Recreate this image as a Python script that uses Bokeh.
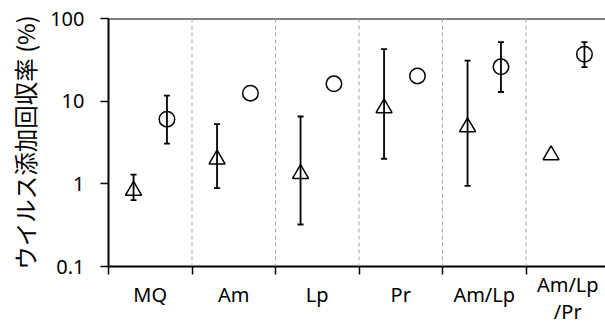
from bokeh.plotting import figure
from bokeh.models import (ColumnDataSource, Range1d, FixedTicker, Whisker, TeeHead,
                          Span, BasicTickFormatter, LinearAxis)
from bokeh.embed import file_html
from bokeh.resources import INLINE

categories = ["MQ", "Am", "Lp", "Pr", "Am/Lp", "Am/Lp/Pr"]
cat_labels = ["MQ", "Am", "Lp", "Pr", "Am/Lp", "Am/Lp\n/Pr"]

tri_val = [0.83, 1.98, 1.32, 8.26, 4.86, 2.23]
tri_hi = [1.29, 5.27, 6.52, 42.6, 31.0, None]
tri_lo = [0.635, 0.887, 0.322, 2.01, 0.946, None]

circ_val = [6.06, 12.5, 16.2, 20.2, 26.0, 37.0]
circ_hi = [11.7, None, None, None, 51.8, 51.8]
circ_lo = [3.07, None, None, None, 12.9, 25.8]

ytick_vals = [0.1, 1, 10, 100]

n = len(categories)
centers = [i + 0.5 for i in range(n)]
bounds = list(range(n + 1))
x_tri = [c - 0.2 for c in centers]
x_circ = [c + 0.2 for c in centers]

# split labels into rows: two-line labels are vertically centred on single-line ones
row_top, row_mid, row_bot = [], [], []
for lab in cat_labels:
    parts = lab.split("\n")
    if len(parts) == 2:
        row_top.append(parts[0]); row_mid.append(""); row_bot.append(parts[1])
    else:
        row_top.append(""); row_mid.append(lab); row_bot.append("")

p = figure(width=605, height=327, output_backend="svg", toolbar_location=None,
           x_range=Range1d(0, 5.952), y_range=Range1d(0.1, 100), y_axis_type="log",
           min_border_left=108, min_border_right=0, min_border_top=18, min_border_bottom=61)
p.outline_line_color = None
p.grid.visible = False
p.background_fill_color = "white"
p.border_fill_color = "white"

# x axis 1: tick marks at category boundaries, no labels
p.xaxis.ticker = FixedTicker(ticks=bounds, minor_ticks=[])
p.xaxis.major_label_overrides = {b: "" for b in bounds}
p.xaxis.major_tick_out = 8
p.xaxis.major_tick_in = 0
p.xaxis.major_tick_line_color = "black"
p.xaxis.major_tick_line_width = 1.5
p.xaxis.major_label_standoff = 0
p.xaxis.major_label_text_font_size = "1px"
p.xaxis.axis_line_color = "black"
p.xaxis.axis_line_width = 2

# label rows (stacked axes without lines / ticks)
for row, standoff in [(row_top, -4), (row_mid, -20), (row_bot, -13)]:
    ax = LinearAxis(ticker=FixedTicker(ticks=centers, minor_ticks=[]),
                    major_label_overrides={c: t for c, t in zip(centers, row)},
                    axis_line_color=None, major_tick_line_color=None,
                    major_tick_out=0, major_tick_in=0, minor_tick_line_color=None,
                    major_label_text_font="Noto Sans",
                    major_label_text_font_size="20px",
                    major_label_text_color="black",
                    major_label_standoff=standoff)
    p.add_layout(ax, "below")

# y axis
p.yaxis.ticker = FixedTicker(ticks=ytick_vals, minor_ticks=[])
p.yaxis.formatter = BasicTickFormatter()
p.yaxis.major_tick_out = 8
p.yaxis.major_tick_in = 0
p.yaxis.major_tick_line_width = 1.5
p.yaxis.major_tick_line_color = "black"
p.yaxis.axis_line_width = 2
p.yaxis.axis_line_color = "black"
p.yaxis.major_label_text_font = "Noto Sans"
p.yaxis.major_label_text_font_size = "20px"
p.yaxis.major_label_text_color = "black"
p.yaxis.major_label_standoff = 16
p.yaxis.axis_label = "ウイルス添加回収率 (%)"
p.yaxis.axis_label_text_font = "Noto Sans CJK JP"
p.yaxis.axis_label_text_font_style = "normal"
p.yaxis.axis_label_text_font_size = "23.5px"
p.yaxis.axis_label_text_color = "black"
p.yaxis.axis_label_standoff = 5

# top border line
p.add_layout(Span(location=100, dimension="width", line_color="black", line_width=2))

# dashed separators
for b in bounds[1:-1]:
    p.add_layout(Span(location=b, dimension="height", line_color="#a6a6a6",
                      line_width=1, line_dash="4 3"))

# error bars
def whisker_source(xs, his, los):
    xx, hh, ll = [], [], []
    for x, h, l in zip(xs, his, los):
        if h is not None and l is not None:
            xx.append(x); hh.append(h); ll.append(l)
    return ColumnDataSource(dict(x=xx, upper=hh, lower=ll))

for xs, his, los in [(x_tri, tri_hi, tri_lo), (x_circ, circ_hi, circ_lo)]:
    w = Whisker(base="x", upper="upper", lower="lower", source=whisker_source(xs, his, los),
                line_color="black", line_width=1.8,
                upper_head=TeeHead(size=6, line_color="black", line_width=1.8),
                lower_head=TeeHead(size=6, line_color="black", line_width=1.8))
    p.add_layout(w)

p.scatter(x_tri, tri_val, marker="triangle", size=16, fill_color=None,
          line_color="black", line_width=1.5)
p.scatter(x_circ, circ_val, marker="circle", size=15.5, fill_color=None,
          line_color="black", line_width=1.5)

open("out.html", "w").write(file_html(p, INLINE))
